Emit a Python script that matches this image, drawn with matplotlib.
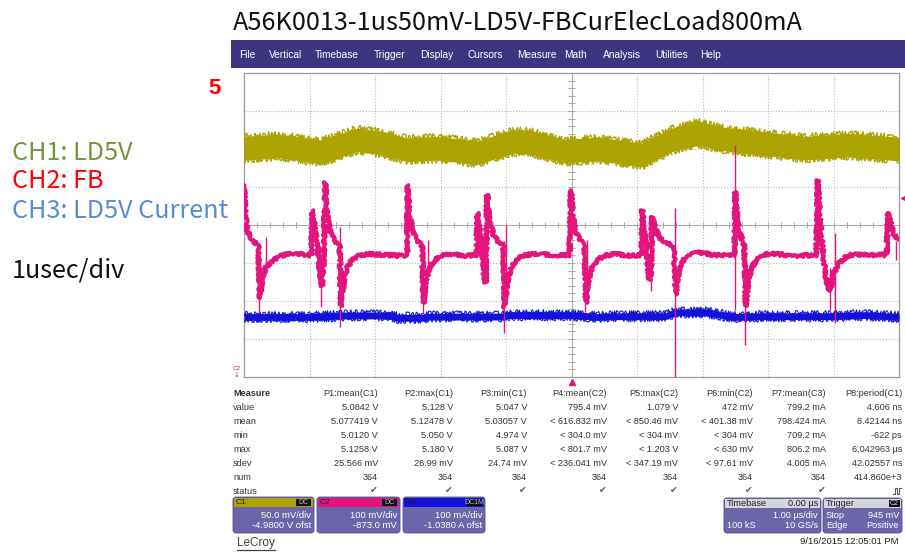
import matplotlib
matplotlib.use('Agg')
import matplotlib.pyplot as plt
from matplotlib.patches import Rectangle, FancyBboxPatch
import numpy as np

# ---------------- data ----------------
title = "A56K0013-1us50mV-LD5V-FBCurElecLoad800mA"
menu_items = ["File", "Vertical", "Timebase", "Trigger", "Display", "Cursors",
              "Measure", "Math", "Analysis", "Utilities", "Help"]
side_labels = ["CH1: LD5V", "CH2: FB", "CH3: LD5V Current"]
page_no = "5"
time_label = "1usec/div"

# channel settings (scale per div, offset -> screen centre value)
ch1_scale, ch1_centre = 0.050, 4.9800      # V
ch2_scale, ch2_centre = 100.0, 873.0       # mV
ch3_scale, ch3_centre = 100.0, 1038.0      # mA
trig_level_mv = 945.0

# CH1 LD5V (V) - centre of noisy band and band half width
ch1_t = [-5.0, -4.45, -3.84, -3.27, -2.92, -2.51, -2.05, -1.44, -0.89, -0.63,
         -0.10, 0.40, 1.08, 1.53, 1.93, 2.34, 2.95, 3.56, 4.22, 5.0]
ch1_v = [5.081, 5.084, 5.076, 5.092, 5.088, 5.079, 5.081, 5.075, 5.090, 5.089,
         5.077, 5.080, 5.072, 5.092, 5.101, 5.093, 5.087, 5.081, 5.085, 5.080]
ch1_half = 0.0155

# CH3 LD5V current (mA)
ch3_t = [-5.0, -4.0, -3.43, -2.77, -2.66, -2.27, -2.16, -1.05, -0.98, -0.02,
         0.40, 0.66, 1.43, 1.58, 2.08, 2.45, 2.95, 3.97, 4.48, 5.0]
ch3_ma = [796, 796, 800, 800, 794, 794, 797, 797, 801, 801,
          796, 798, 798, 808, 808, 796, 798, 798, 801, 796]
ch3_half = 9.0

# CH2 FB (mV) main trace
fb_t = [-5.00, -4.98, -4.95, -4.90, -4.84, -4.78,
        -4.76, -4.72, -4.66, -4.58, -4.48, -4.38, -4.20, -4.05, -3.97,
        -3.96, -3.93, -3.88, -3.84, -3.81, -3.785, -3.76, -3.73, -3.68, -3.62, -3.56, -3.54,
        -3.52, -3.48, -3.42, -3.35, -3.25, -3.10, -2.80, -2.60, -2.51,
        -2.50, -2.47, -2.43, -2.37, -2.31, -2.28,
        -2.26, -2.22, -2.16, -2.08, -1.98, -1.85, -1.60, -1.45,
        -1.44, -1.41, -1.37, -1.33, -1.31, -1.30, -1.29, -1.25, -1.18, -1.10, -1.04,
        -1.02, -0.98, -0.92, -0.84, -0.74, -0.60, -0.30, -0.03,
        -0.01, 0.02, 0.06, 0.12, 0.18, 0.20,
        0.22, 0.26, 0.32, 0.40, 0.51, 0.65, 0.90, 1.07,
        1.08, 1.11, 1.15, 1.19, 1.21, 1.22, 1.23, 1.28, 1.36, 1.46, 1.56,
        1.59, 1.64, 1.70, 1.80, 1.95, 2.20, 2.49,
        2.50, 2.53, 2.57, 2.62, 2.64,
        2.66, 2.70, 2.76, 2.84, 2.93, 3.05, 3.40, 3.74,
        3.76, 3.79, 3.83, 3.87, 3.89, 3.92,
        3.96, 4.00, 4.08, 4.18, 4.28, 4.50, 4.81,
        4.83, 4.87, 4.92, 5.00]
fb_mv = [978, 905, 860, 841, 828, 818,
         680, 735, 762, 778, 788, 795, 798, 794, 794,
         912, 880, 815, 750, 712, 760, 986, 900, 852, 832, 824, 820,
         660, 722, 762, 781, 792, 797, 794, 792, 794,
         978, 905, 856, 836, 824, 818,
         668, 730, 764, 782, 792, 797, 792, 794,
         905, 870, 800, 735, 722, 780, 952, 882, 842, 827, 820,
         655, 722, 762, 782, 792, 797, 794, 794,
         965, 900, 856, 836, 824, 818,
         668, 730, 764, 782, 792, 797, 792, 794,
         912, 870, 792, 728, 732, 800, 894, 862, 836, 824, 818,
         690, 750, 778, 795, 800, 794, 794,
         960, 890, 850, 828, 818,
         660, 730, 764, 785, 794, 798, 792, 794,
         991, 900, 820, 752, 728, 700,
         705, 745, 772, 788, 795, 794, 794,
         905, 880, 850, 834]
# CH2 fast spikes (time, low mV, high mV)
spk_t = [-4.77, -4.67, -3.82, -3.53, -2.27, -2.19, -1.03, -1.00, 0.21, 0.24,
         1.22, 1.58, 2.50, 2.65, 3.95, 4.02, 4.95]
spk_lo = [644, 760, 657, 605, 641, 740, 589, 720, 644, 700,
          700, 473, 650, 557, 650, 615, 781]
spk_hi = [820, 841, 720, 868, 820, 834, 830, 873, 820, 834,
          740, 918, 1084, 820, 760, 852, 830]

# measurement table
meas_rows = ["Measure", "value", "mean", "min", "max", "sdev", "num", "status"]
meas_cols = [
    ["P1:mean(C1)", "5.0842 V", "5.077419 V", "5.0120 V", "5.1258 V", "25.566 mV", "364", "\u2714"],
    ["P2:max(C1)", "5.128 V", "5.12478 V", "5.050 V", "5.180 V", "26.99 mV", "364", "\u2714"],
    ["P3:min(C1)", "5.047 V", "5.03057 V", "4.974 V", "5.087 V", "24.74 mV", "364", "\u2714"],
    ["P4:mean(C2)", "795.4 mV", "< 616.832 mV", "< 304.0 mV", "< 801.7 mV", "< 236.041 mV", "364", "\u2714"],
    ["P5:max(C2)", "1.079 V", "< 850.46 mV", "< 304 mV", "< 1.203 V", "< 347.19 mV", "364", "\u2714"],
    ["P6:min(C2)", "472 mV", "< 401.38 mV", "< 304 mV", "< 630 mV", "< 97.61 mV", "364", "\u2714"],
    ["P7:mean(C3)", "799.2 mA", "798.424 mA", "709.2 mA", "806.2 mA", "4.005 mA", "364", "\u2714"],
    ["P8:period(C1)", "4.606 ns", "8.42144 ns", "-622 ps", "6.042963 \u00b5s", "42.02557 ns", "414.860e+3", ""],
]
ch_boxes = [("C1", "DC", "50.0 mV/div", "-4.9800 V ofst"),
            ("C2", "DC", "100 mV/div", "-873.0 mV"),
            ("C3", "DC1M", "100 mA/div", "-1.0380 A ofst")]
timebase_box = ("Timebase", "0.00 \u00b5s", "1.00 \u00b5s/div", "100 kS", "10 GS/s")
trigger_box = ("Trigger", "C2", "Stop", "945 mV", "Edge", "Positive")
date_text = "9/16/2015 12:05:01 PM"

# ---------------- styling ----------------
W, H = 905, 553
YEL = '#aba400'
PINK = '#e3157c'
BLUE = '#1212d8'
MENU = '#3d3482'
BOXBODY = '#6c65a9'
TXT = '#333333'
CJK = ['Noto Sans CJK JP', 'DejaVu Sans']
SANS = ['Liberation Sans', 'DejaVu Sans']

fig = plt.figure(figsize=(W / 100, H / 100), dpi=100)
bg = fig.add_axes([0, 0, 1, 1])
bg.set_xlim(0, W)
bg.set_ylim(H, 0)
bg.axis('off')
renderer = fig.canvas.get_renderer()


def fit_text(txt, x, y, target_w, size0, **kw):
    t = bg.text(x, y, txt, fontsize=size0, **kw)
    w = t.get_window_extent(renderer).width
    t.set_fontsize(size0 * target_w / w)
    return t


# title
fit_text(title, 233, 23, 570, 18, family=CJK, va='center', ha='left', color='#111111')

# side labels
lab_y = [153, 181, 211]
lab_c = ['#77933c', '#ff0000', '#558ed5']
t3 = bg.text(12, lab_y[2], side_labels[2], fontsize=14, family=CJK, va='center', color=lab_c[2])
fs_side = 14 * 216 / t3.get_window_extent(renderer).width
t3.set_fontsize(fs_side)
for s, yy, c in zip(side_labels[:2], lab_y[:2], lab_c[:2]):
    bg.text(12, yy, s, fontsize=fs_side, family=CJK, va='center', color=c)
bg.text(12, 271, time_label, fontsize=fs_side, family=CJK, va='center', color='#111111')
bg.text(215, 89, page_no, fontsize=16, family=SANS, weight='bold', va='center', ha='center', color='#ff0000')

# menu bar
bg.add_patch(Rectangle((231, 40), W - 231, 28, color=MENU, lw=0))
menu_x = [239, 269, 315, 374, 420, 467, 517, 564, 603, 655, 700]
for s, xx in zip(menu_items, menu_x):
    bg.text(xx, 55, s, fontsize=7.3, family=SANS, color='white', va='center', ha='left')

# ---------------- scope grid ----------------
GX0, GX1, GY0, GY1 = 244, 899, 73, 377
ax = fig.add_axes([GX0 / W, 1 - GY1 / H, (GX1 - GX0) / W, (GY1 - GY0) / H])
ax.set_xlim(-5, 5)
ax.set_ylim(-4, 4)
ax.set_xticks([])
ax.set_yticks([])
for sp in ax.spines.values():
    sp.set_color('#9a9a9a')
    sp.set_linewidth(0.9)
for i in range(-4, 5):
    if i != 0:
        ax.axvline(i, color='#b8b8b8', lw=0.8, ls=(0, (1, 1.6)), zorder=1)
for j in range(-3, 4):
    if j != 0:
        ax.axhline(j, color='#b8b8b8', lw=0.8, ls=(0, (1, 1.6)), zorder=1)
ax.axvline(0, color='#a8a8a8', lw=0.8, zorder=1)
ax.axhline(0, color='#a8a8a8', lw=0.8, zorder=1)
ticks_x = np.arange(-5, 5.01, 0.2)
ax.vlines(ticks_x, -0.08, 0.08, color='#a8a8a8', lw=0.7, zorder=1)
ticks_y = np.arange(-4, 4.01, 0.2)
ax.hlines(ticks_y, -0.05, 0.05, color='#a8a8a8', lw=0.7, zorder=1)


def d1(v):
    return (np.asarray(v, float) - ch1_centre) / ch1_scale


def d2(v):
    return (np.asarray(v, float) - ch2_centre) / ch2_scale


def d3(v):
    return (np.asarray(v, float) - ch3_centre) / ch3_scale


# CH1 band
c1 = np.asarray(ch1_v)
pc = ax.fill_between(ch1_t, d1(c1 - ch1_half), d1(c1 + ch1_half), color=YEL, lw=0, zorder=3)
pc.set_sketch_params(scale=2.0, length=1.0, randomness=3)
for off in (-ch1_half, ch1_half):
    ln, = ax.plot(ch1_t, d1(c1 + off), color=YEL, lw=1.0, zorder=3)
    ln.set_sketch_params(scale=3.0, length=0.8, randomness=4)

# CH3 band
c3 = np.asarray(ch3_ma)
pc3 = ax.fill_between(ch3_t, d3(c3 - ch3_half), d3(c3 + ch3_half), color=BLUE, lw=0, zorder=4)
pc3.set_sketch_params(scale=1.2, length=1.0, randomness=3)
for off in (-ch3_half, ch3_half):
    ln, = ax.plot(ch3_t, d3(c3 + off), color=BLUE, lw=0.8, zorder=4)
    ln.set_sketch_params(scale=2.2, length=0.8, randomness=4)

# CH2 trace
ax.vlines(spk_t, d2(spk_lo), d2(spk_hi), color=PINK, lw=1.0, zorder=5)
ln2, = ax.plot(fb_t, d2(fb_mv), color=PINK, lw=2.8, solid_joinstyle='round', zorder=5)
ln2.set_sketch_params(scale=1.6, length=0.8, randomness=3)

# markers: trigger level (right) and trigger position (bottom)
ax.plot([5.07], [d2(trig_level_mv)], marker='<', color=PINK, ms=5, clip_on=False, zorder=6)
ax.plot([0], [-4.12], marker='^', color=PINK, ms=5, clip_on=False, zorder=6)
bg.text(237, 369, "C2", fontsize=4.5, family=SANS, color=PINK, ha='center', va='center')
bg.text(237, 375, "\u2193", fontsize=5, family=['DejaVu Sans'], color=PINK, ha='center', va='center')

# ---------------- measurement table ----------------
row_y = [393, 407, 421, 435, 449, 463, 477, 491]
col_r = [378, 453, 527, 607, 678, 753, 826, 902]
for s, yy in zip(meas_rows, row_y):
    bg.text(233, yy, s, fontsize=6.6, family=SANS, color=TXT, va='center', ha='left',
            weight='bold' if s == 'Measure' else 'normal')
for col, xr in zip(meas_cols, col_r):
    for k, (s, yy) in enumerate(zip(col, row_y)):
        fam = ['DejaVu Sans'] if k == 7 else SANS
        bg.text(xr, yy, s, fontsize=6.6, family=fam, color=TXT if k != 7 else '#555555',
                va='center', ha='right')
# P8 status pulse icon (symbol not available in installed fonts)
bg.plot([893, 895, 895, 897, 897, 899, 899, 901], [494, 494, 488, 488, 494, 494, 488, 488],
        color='#555555', lw=0.8)

# channel boxes
box_x = [(233, 314), (317, 400), (403, 485)]
stripe_c = [YEL, PINK, BLUE]
for (nm, cp, l1, l2), (x0, x1), sc in zip(ch_boxes, box_x, stripe_c):
    bg.add_patch(FancyBboxPatch((x0, 497), x1 - x0, 36, boxstyle='round,pad=0,rounding_size=3',
                                fc=BOXBODY, ec='#55508a', lw=0.6))
    bg.add_patch(Rectangle((x0 + 1, 498), x1 - x0 - 2, 9, color=sc, lw=0))
    bg.add_patch(Rectangle((x1 - 18, 499), 15, 7, color='#111111', lw=0))
    bg.text(x0 + 3, 502.5, nm, fontsize=6, family=SANS, color='#222222', va='center')
    bg.text(x1 - 10.5, 502.5, cp, fontsize=5, family=SANS, color='#bbbbbb', va='center', ha='center')
    bg.text(x1 - 3, 516, l1, fontsize=6.8, family=SANS, color='white', va='center', ha='right')
    bg.text(x1 - 3, 526, l2, fontsize=6.8, family=SANS, color='white', va='center', ha='right')

# timebase box
x0, x1 = 724, 821
bg.add_patch(FancyBboxPatch((x0, 498), x1 - x0, 35, boxstyle='round,pad=0,rounding_size=3',
                            fc=BOXBODY, ec='#55508a', lw=0.6))
bg.add_patch(Rectangle((x0 + 1, 499), x1 - x0 - 2, 9, color='#d4d4dc', lw=0))
bg.text(x0 + 3, 503.5, timebase_box[0], fontsize=6.6, family=SANS, color='#222222', va='center')
bg.text(x1 - 3, 503.5, timebase_box[1], fontsize=6.6, family=SANS, color='#222222', va='center', ha='right')
bg.text(x1 - 3, 516, timebase_box[2], fontsize=6.6, family=SANS, color='white', va='center', ha='right')
bg.text(x0 + 3, 526, timebase_box[3], fontsize=6.6, family=SANS, color='white', va='center')
bg.text(x1 - 3, 526, timebase_box[4], fontsize=6.6, family=SANS, color='white', va='center', ha='right')

# trigger box
x0, x1 = 823, 902
bg.add_patch(FancyBboxPatch((x0, 498), x1 - x0, 35, boxstyle='round,pad=0,rounding_size=3',
                            fc=BOXBODY, ec='#55508a', lw=0.6))
bg.add_patch(Rectangle((x0 + 1, 499), x1 - x0 - 2, 9, color='#d4d4dc', lw=0))
bg.add_patch(Rectangle((x1 - 13, 500), 11, 7, color='#111111', lw=0))
bg.text(x0 + 3, 503.5, trigger_box[0], fontsize=6.6, family=SANS, color='#222222', va='center')
bg.text(x1 - 7.5, 503.5, trigger_box[1], fontsize=5, family=SANS, color='#dddddd', va='center', ha='center')
bg.text(x0 + 3, 516, trigger_box[2], fontsize=6.6, family=SANS, color='white', va='center')
bg.text(x1 - 3, 516, trigger_box[3], fontsize=6.6, family=SANS, color='white', va='center', ha='right')
bg.text(x0 + 3, 526, trigger_box[4], fontsize=6.6, family=SANS, color='white', va='center')
bg.text(x1 - 3, 526, trigger_box[5], fontsize=6.6, family=SANS, color='white', va='center', ha='right')

# footer
bg.text(898, 542, date_text, fontsize=6.8, family=SANS, color='#222222', va='center', ha='right')
lc = bg.text(237, 543, "LeCroy", fontsize=8.5, family=SANS, color='#444444', va='center', ha='left')
wlc = lc.get_window_extent(renderer).width
bg.plot([237, 237 + wlc], [549.5, 549.5], color='#444444', lw=0.9)

fig.savefig('out.png', dpi=100)
